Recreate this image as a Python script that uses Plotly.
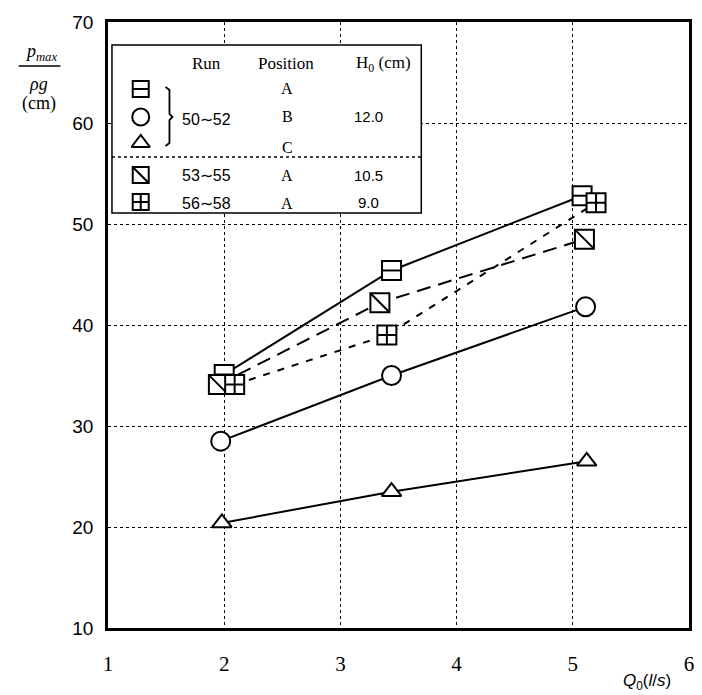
import plotly.graph_objects as go

# ---------------- data ----------------
Q_A = [2.00, 3.44, 5.08]     # Run 50~52, position A
P_A = [35.1, 45.4, 52.8]
Q_B = [1.97, 3.44, 5.11]     # Run 50~52, position B
P_B = [28.5, 35.0, 41.8]
Q_C = [1.98, 3.44, 5.12]     # Run 50~52, position C
P_C = [20.4, 23.5, 26.5]
Q_53 = [1.95, 3.34, 5.10]    # Run 53~55, position A
P_53 = [34.1, 42.2, 48.5]
Q_56 = [2.09, 3.40, 5.20]    # Run 56~58, position A
P_56 = [34.1, 39.0, 52.1]

X_TICKS = [1, 2, 3, 4, 5, 6]
Y_TICKS = [10, 20, 30, 40, 50, 60, 70]

# ---------------- layout geometry (pixels) ----------------
W, H = 702, 695
L, R, T, B = 108, 8, 22, 67
X0, X1 = L, W - R
Y0, Y1 = T, H - B


def xp(px):
    return (px - X0) / (X1 - X0)


def yp(py):
    return (Y1 - py) / (Y1 - Y0)


def xd(px):
    return 1 + 5 * (px - X0) / (X1 - X0)


def yd(py):
    return 10 + 60 * (Y1 - py) / (Y1 - Y0)


BLK = "black"
fig = go.Figure()

# lines
fig.add_trace(go.Scatter(x=Q_A, y=P_A, mode="lines", line=dict(color=BLK, width=2)))
fig.add_trace(go.Scatter(x=Q_B, y=P_B, mode="lines", line=dict(color=BLK, width=2)))
fig.add_trace(go.Scatter(x=Q_C, y=P_C, mode="lines", line=dict(color=BLK, width=2)))
fig.add_trace(go.Scatter(x=Q_53, y=P_53, mode="lines", line=dict(color=BLK, width=2, dash="14px,8px")))
fig.add_trace(go.Scatter(x=Q_56, y=P_56, mode="lines", line=dict(color=BLK, width=2, dash="7px,8px")))

MS = 19


def open_marker(sym, size):
    return dict(symbol=sym, size=size, color="white", line=dict(color=BLK, width=2))


def inner_marker(sym, size):
    return dict(symbol=sym, size=size, color=BLK, line=dict(color=BLK, width=2))


# markers (A square with a horizontal bar)
fig.add_trace(go.Scatter(x=Q_A, y=P_A, mode="markers", marker=open_marker("square", MS)))
fig.add_trace(go.Scatter(x=Q_A, y=P_A, mode="markers", marker=inner_marker("line-ew", MS / 1.4)))
fig.add_trace(go.Scatter(x=Q_B, y=P_B, mode="markers", marker=open_marker("circle", MS)))
fig.add_trace(go.Scatter(x=Q_C, y=P_C, mode="markers", marker=open_marker("triangle-up", 17)))
fig.add_trace(go.Scatter(x=Q_53, y=P_53, mode="markers", marker=open_marker("square", MS)))
fig.add_trace(go.Scatter(x=Q_53, y=P_53, mode="markers", marker=inner_marker("line-nw", MS)))
fig.add_trace(go.Scatter(x=Q_56, y=P_56, mode="markers", marker=open_marker("square-cross", MS)))

# ---------------- legend (drawn on a pixel-scaled overlay axis) ----------------
LEG_X = 141
LEG_ROWS = [89, 117, 143, 175, 202]
LS = 16
fig.add_trace(go.Scatter(x=[LEG_X], y=[LEG_ROWS[0]], xaxis="x2", yaxis="y2", mode="markers", marker=open_marker("square", LS)))
fig.add_trace(go.Scatter(x=[LEG_X], y=[LEG_ROWS[0]], xaxis="x2", yaxis="y2", mode="markers", marker=inner_marker("line-ew", LS / 1.4)))
fig.add_trace(go.Scatter(x=[LEG_X], y=[LEG_ROWS[1]], xaxis="x2", yaxis="y2", mode="markers", marker=open_marker("circle", LS + 1)))
fig.add_trace(go.Scatter(x=[LEG_X], y=[LEG_ROWS[2]], xaxis="x2", yaxis="y2", mode="markers", marker=open_marker("triangle-up", 16)))
fig.add_trace(go.Scatter(x=[LEG_X], y=[LEG_ROWS[3]], xaxis="x2", yaxis="y2", mode="markers", marker=open_marker("square", LS)))
fig.add_trace(go.Scatter(x=[LEG_X], y=[LEG_ROWS[3]], xaxis="x2", yaxis="y2", mode="markers", marker=inner_marker("line-nw", LS)))
fig.add_trace(go.Scatter(x=[LEG_X], y=[LEG_ROWS[4]], xaxis="x2", yaxis="y2", mode="markers", marker=open_marker("square-cross", LS)))

SERIF = "Liberation Serif"
SANS = "Liberation Sans"
annotations = []


def txt(px, py, text, font=SERIF, size=17, xanchor="center"):
    annotations.append(dict(x=xp(px), y=yp(py), xref="paper", yref="paper", text=text,
                            showarrow=False, xanchor=xanchor, yanchor="middle",
                            font=dict(family=font, size=size, color=BLK)))


TL = "\u223c"
txt(207, 64, "Run")
txt(288, 64, "Position")
txt(386, 64, "H<sub>0</sub> (cm)")
txt(289, 89, "A", size=16)
txt(289, 117, "B", size=16)
txt(289, 148, "C", size=16)
txt(207, 119, f"50{TL}52", SANS, 16)
txt(371, 116, "12.0", SANS, 15)
txt(207, 176, f"53{TL}55", SANS, 16)
txt(289, 176, "A", size=16)
txt(371, 176, "10.5", SANS, 15)
txt(207, 203, f"56{TL}58", SANS, 16)
txt(289, 203, "A", size=16)
txt(371, 202, "9.0", SANS, 15)

# axis titles
txt(40, 52, "<i>p</i><sub><i>max</i></sub>", SERIF, 18)
txt(38, 84, "<i>ρg</i>", SERIF, 18)
txt(38, 104, "(cm)", SERIF, 18)
txt(652, 682, "<i>Q</i><sub>0</sub>(<i>l</i>/<i>s</i>)", SANS, 17)

shapes = [
    # legend box (covers the grid, sits below the traces)
    dict(type="rect", xref="x", yref="y", x0=xd(112), x1=xd(424), y0=yd(213), y1=yd(45),
         fillcolor="white", line=dict(color=BLK, width=1.5), layer="between"),
    # dotted separator
    dict(type="line", xref="paper", yref="paper", x0=xp(112), x1=xp(424), y0=yp(157), y1=yp(157),
         line=dict(color=BLK, width=1.5, dash="dot"), layer="above"),
    # fraction bar of the y-axis title
    dict(type="line", xref="paper", yref="paper", x0=xp(18), x1=xp(60), y0=yp(66), y1=yp(66),
         line=dict(color=BLK, width=1.5), layer="above"),
]
# bracket grouping the first three legend rows
bx, by0, bym, by1 = 170, 87, 117, 146
pts = [(166, by0), (170, by0 + 3), (bx, bym - 3), (bx + 3, bym), (bx, bym + 3), (bx, by1 - 3), (166, by1)]
path = "M " + " L ".join(f"{xp(a):.5f},{yp(b):.5f}" for a, b in pts)
shapes.append(dict(type="path", xref="paper", yref="paper", path=path,
                   line=dict(color=BLK, width=1.8), layer="above"))

fig.update_layout(
    width=W, height=H,
    margin=dict(l=L, r=R, t=T, b=B, pad=0),
    paper_bgcolor="white", plot_bgcolor="white",
    showlegend=False,
    annotations=annotations,
    shapes=shapes,
    xaxis=dict(range=[1, 6], tickvals=X_TICKS, ticktext=[str(v) for v in X_TICKS],
               showgrid=True, gridcolor=BLK, gridwidth=1.3, griddash="dot",
               showline=True, linecolor=BLK, linewidth=2.5, mirror=True,
               ticks="", zeroline=False, ticklabelstandoff=15,
               tickfont=dict(family=SERIF, size=21, color=BLK)),
    yaxis=dict(range=[10, 70], tickvals=Y_TICKS, ticktext=[str(v) for v in Y_TICKS],
               showgrid=True, gridcolor=BLK, gridwidth=1.3, griddash="dot",
               showline=True, linecolor=BLK, linewidth=2.5, mirror=True,
               ticks="", zeroline=False, ticklabelstandoff=8,
               tickfont=dict(family=SANS, size=19, color=BLK)),
    xaxis2=dict(range=[X0, X1], overlaying="x", visible=False, fixedrange=True),
    yaxis2=dict(range=[Y1, Y0], overlaying="y", visible=False, fixedrange=True),
)

fig.write_html("out.html", config={"displayModeBar": False},
               post_script="document.body.style.margin='0';")
